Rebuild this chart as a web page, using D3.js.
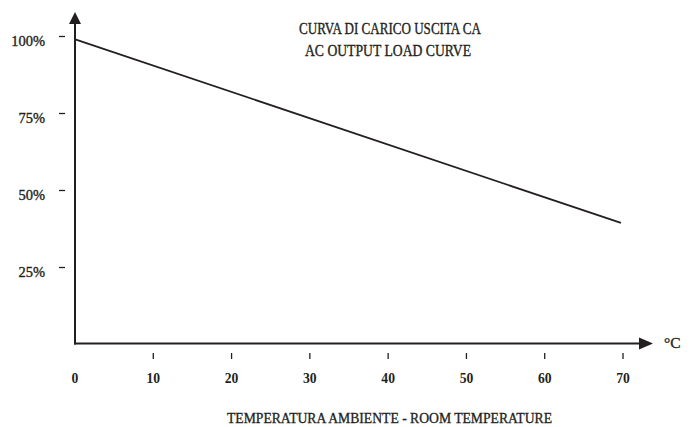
<!DOCTYPE html>
<html>
<head>
<meta charset="utf-8">
<script src="https://cdn.jsdelivr.net/npm/d3@7"></script>
<style>
  body { margin: 0; background: #fff; }
  svg text { font-family: "Liberation Serif", "DejaVu Serif", serif; fill: #231f20; }
  svg text.heavy { stroke: #231f20; stroke-width: 0.35px; }
</style>
</head>
<body>
<div id="chart"></div>
<script>
// curve data
var temps = [0, 69.8];
var loads = [99, 39.3];
var xTicks = [0, 10, 20, 30, 40, 50, 60, 70];
var yTicks = [25, 50, 75, 100];
var titleLines = ["CURVA DI CARICO USCITA CA", "AC OUTPUT LOAD CURVE"];
var xTitle = "TEMPERATURA AMBIENTE - ROOM TEMPERATURE";
var unit = "°C";

var width = 693, height = 427;
var ink = "#231f20";

var svg = d3.select("#chart").append("svg")
    .attr("width", width)
    .attr("height", height);

var x = d3.scaleLinear().domain([0, 70]).range([74.5, 622.5]);
var y = d3.scaleLinear().domain([0, 100]).range([344, 36]);

var x0 = 75, y0 = 343.5;

// axis lines with arrows
svg.append("line")
    .attr("x1", x0).attr("y1", y0 + 1)
    .attr("x2", x0).attr("y2", 22)
    .attr("stroke", ink).attr("stroke-width", 2);
svg.append("path")
    .attr("d", `M${x0 - 6},24 L${x0},12 L${x0 + 6},24 Z`)
    .attr("fill", ink);

svg.append("line")
    .attr("x1", x0 - 1).attr("y1", y0)
    .attr("x2", 642).attr("y2", y0)
    .attr("stroke", ink).attr("stroke-width", 2);
svg.append("path")
    .attr("d", `M639,${y0 - 6} L653,${y0} L639,${y0 + 6} Z`)
    .attr("fill", ink);

// y ticks (detached from the axis)
var yAxis = d3.axisLeft(y)
    .tickValues(yTicks)
    .tickSize(6)
    .tickPadding(14)
    .tickFormat(d => d + "%");

var gy = svg.append("g")
    .attr("transform", "translate(65,0)")
    .call(yAxis);
gy.select(".domain").remove();
gy.selectAll(".tick line").attr("stroke", ink).attr("stroke-width", 1.3);
gy.selectAll(".tick text")
    .attr("class", "heavy")
    .attr("dy", "0.62em")
    .style("font-size", "14.5px")
    .attr("fill", ink);

// x ticks
var xAxis = d3.axisBottom(x)
    .tickValues(xTicks)
    .tickSize(6)
    .tickPadding(13)
    .tickFormat(d3.format("d"));

var gx = svg.append("g")
    .attr("transform", "translate(0,353)")
    .call(xAxis);
gx.select(".domain").remove();
gx.selectAll(".tick line").attr("stroke", ink).attr("stroke-width", 1.3)
    .filter(d => d === 0).remove();
gx.selectAll(".tick text")
    .style("font-size", "15.5px")
    .style("font-weight", "bold")
    .attr("transform", "scale(0.88,1)")
    .attr("fill", ink);

// load curve
var pts = temps.map((t, i) => [t, loads[i]]);
svg.append("path")
    .datum(pts)
    .attr("fill", "none")
    .attr("stroke", ink)
    .attr("stroke-width", 1.8)
    .attr("d", d3.line().x(d => x(d[0])).y(d => y(d[1])));

// titles
svg.append("text")
    .attr("class", "heavy")
    .attr("x", 390).attr("y", 33.5)
    .attr("text-anchor", "middle")
    .attr("textLength", 182).attr("lengthAdjust", "spacingAndGlyphs")
    .style("font-size", "16px")
    .text(titleLines[0]);
svg.append("text")
    .attr("class", "heavy")
    .attr("x", 388).attr("y", 55.5)
    .attr("text-anchor", "middle")
    .attr("textLength", 166).attr("lengthAdjust", "spacingAndGlyphs")
    .style("font-size", "16px")
    .text(titleLines[1]);

svg.append("text")
    .attr("class", "heavy")
    .attr("x", 389.5).attr("y", 422.5)
    .attr("text-anchor", "middle")
    .attr("textLength", 325).attr("lengthAdjust", "spacingAndGlyphs")
    .style("font-size", "15.5px")
    .text(xTitle);

svg.append("text")
    .attr("class", "heavy")
    .attr("x", 664).attr("y", 347.5)
    .style("font-size", "15.5px")
    .text(unit);
</script>
</body>
</html>
